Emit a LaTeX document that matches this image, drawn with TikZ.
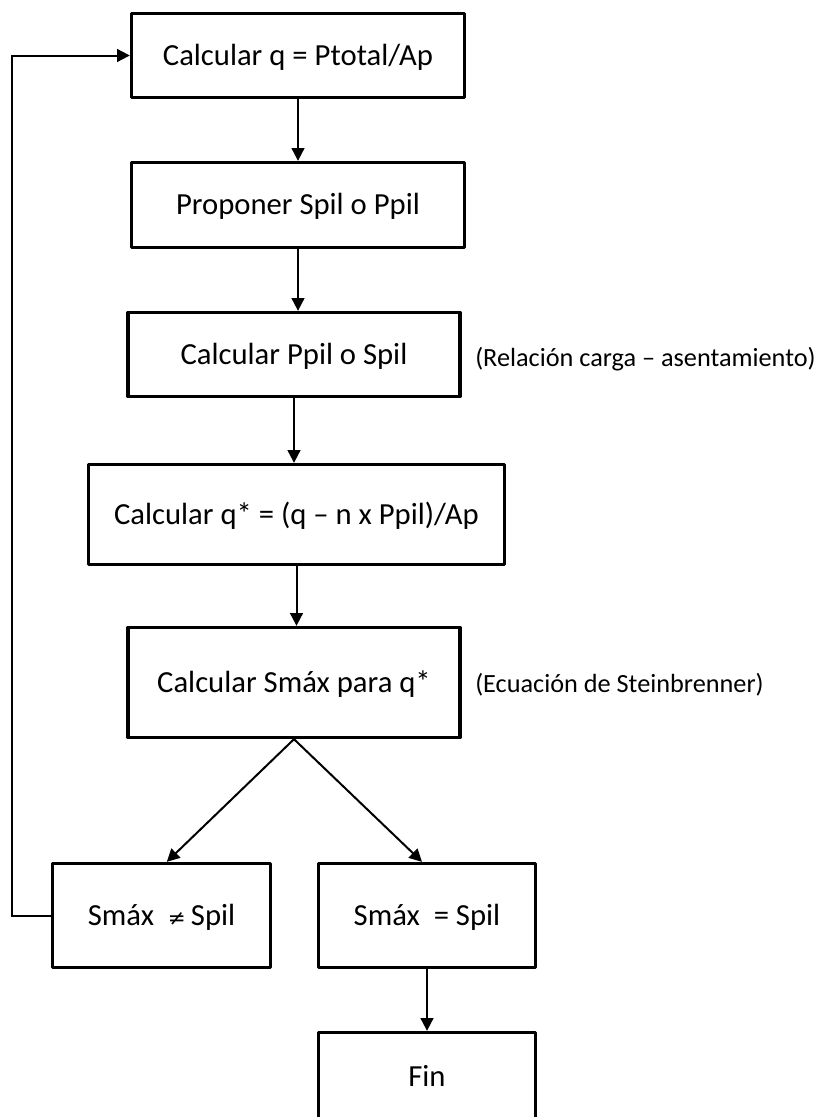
\documentclass[tikz,border=0pt]{standalone}
\usepackage{fontspec}
\setmainfont{Carlito}
\newfontfamily\neqfont{DejaVu Sans}
\usetikzlibrary{arrows.meta}
\tikzset{
  flowbox/.style={draw=black, line width=2.5pt, line join=round, inner sep=0pt,
    font=\fontsize{23}{27}\selectfont, text height=14.8pt, text depth=0pt, align=center},
  sidenote/.style={inner sep=0pt, anchor=west, font=\fontsize{19.7}{24}\selectfont,
    text height=12.7pt, text depth=0pt},
  arr/.style={line width=1.5pt, -{Triangle[length=9.5pt,width=9.5pt]}},
  plain/.style={line width=1.5pt}
}
\begin{document}
\begin{tikzpicture}[x=0.75pt,y=-0.75pt]
\useasboundingbox (0,0) rectangle (822,1117);
\node[flowbox, minimum width=249.75pt, minimum height=63pt] (b1) at (298,55.5) {Calcular q = Ptotal/Ap};
\node[flowbox, minimum width=249.75pt, minimum height=63.75pt] (b2) at (298,205) {Proponer Spil o Ppil};
\node[flowbox, minimum width=249pt, minimum height=63pt] (b3) at (294,354.5) {Calcular Ppil o Spil};
\node[flowbox, minimum width=312pt, minimum height=75pt] (b4) at (296.5,514.5) {Calcular q* = (q – n x Ppil)/Ap};
\node[flowbox, minimum width=249pt, minimum height=82.5pt] (b5) at (294,682.5) {Calcular Smáx para q*};
\node[flowbox, minimum width=163.5pt, minimum height=78pt] (b6) at (161.5,915.5) {Smáx \ {\neqfont\fontsize{16}{20}\selectfont ≠}\,Spil};
\node[flowbox, minimum width=162.75pt, minimum height=78pt] (b7) at (427,915.5) {Smáx \ = Spil};
\node[flowbox, minimum width=162.75pt, minimum height=66pt] (fin) at (427,1076.5) {Fin};
\node[sidenote] (n1) at (475,358) {(Relación carga – asentamiento)};
\node[sidenote] (n2) at (475,684) {(Ecuación de Steinbrenner)};
\coordinate (fbx) at (12,0);
\draw[arr] (b1.south) -- (b1.south |- b2.north);
\draw[arr] (b2.south) -- (b2.south |- b3.north);
\draw[arr] (b3.south) -- (b3.south |- b4.north);
\draw[arr] (b4.south) -- (b4.south |- b5.north);
\draw[arr] (b5.south) -- ([xshift=4pt]b6.north);
\draw[arr] (b5.south) -- ([xshift=-3.75pt]b7.north);
\draw[arr] (b7.south) -- (fin.north);
\draw[arr] (b6.west) -- (b6.west -| fbx) |- (b1.west);
\end{tikzpicture}
\end{document}
